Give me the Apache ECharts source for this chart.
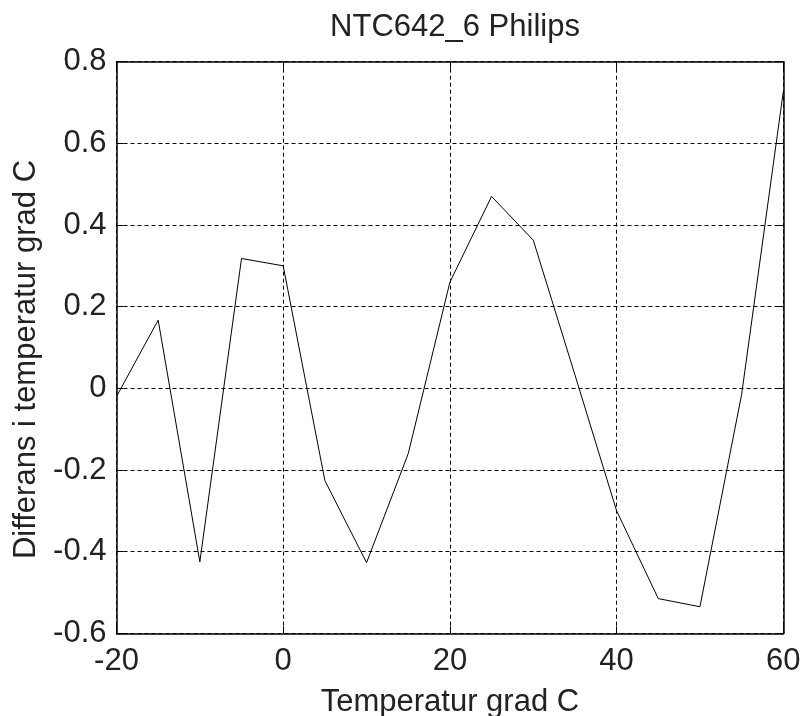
<!DOCTYPE html>
<html>
<head>
<meta charset="utf-8">
<script src="https://cdn.jsdelivr.net/npm/echarts@6/dist/echarts.min.js"></script>
<style>html,body{margin:0;padding:0;background:#fff}#c{width:803px;height:716px}</style>
</head>
<body>
<div id="c"></div>
<script>
var temps = [-20, -15, -10, -5, 0, 5, 10, 15, 20, 25, 30, 35, 40, 45, 50, 55, 60];
var diffs = [-0.02, 0.167, -0.425, 0.318, 0.30, -0.226, -0.427, -0.16, 0.26, 0.47, 0.363, 0.033, -0.30, -0.515, -0.535, -0.015, 0.727];
var xTicks = [-20, 0, 20, 40, 60];
var yTicks = [-0.6, -0.4, -0.2, 0, 0.2, 0.4, 0.6, 0.8];

var FONT = 'Liberation Sans';
var FS = 31;
var TXT = '#222';
var chart = echarts.init(document.getElementById('c'), null, {renderer: 'canvas'});
var grid = {left: 116.5, right: 19.7, top: 61.7, bottom: 82.7, show: false, containLabel: false, outerBoundsMode: 'none'};
var gridLine = {show: true, lineStyle: {color: '#000', type: [4, 3], width: 1}};
chart.setOption({
  backgroundColor: '#fff',
  animation: false,
  title: {
    text: 'NTC642_6 Philips',
    left: 450, textAlign: 'center', top: 7,
    textStyle: {fontFamily: FONT, fontSize: FS, fontWeight: 'normal', color: TXT}
  },
  grid: grid,
  xAxis: [{
    type: 'value', min: -20, max: 60, interval: 20,
    name: 'Temperatur grad C', nameLocation: 'middle', nameGap: 54,
    nameTextStyle: {fontFamily: FONT, fontSize: FS, color: TXT},
    axisLine: {show: true, onZero: false, lineStyle: {color: '#000', width: 1.5}},
    axisTick: {show: true, inside: true, length: 7, lineStyle: {color: '#000'}},
    axisLabel: {fontFamily: FONT, fontSize: FS, color: TXT, margin: 13,
      formatter: function (v) { return xTicks.indexOf(v) >= 0 ? String(v) : ''; }},
    splitLine: gridLine
  }, {
    type: 'value', position: 'top', min: -20, max: 60, interval: 20,
    axisLine: {show: true, onZero: false, lineStyle: {color: '#000', width: 1.5}},
    axisTick: {show: true, inside: true, length: 7, lineStyle: {color: '#000'}},
    axisLabel: {show: false}, splitLine: {show: false}
  }],
  yAxis: [{
    type: 'value', min: -0.6, max: 0.8, interval: 0.2,
    name: 'Differans i temperatur grad C', nameLocation: 'middle', nameGap: 71,
    nameTextStyle: {fontFamily: FONT, fontSize: FS, color: TXT, padding: [0, 24, 0, 0]},
    axisLine: {show: true, onZero: false, lineStyle: {color: '#000', width: 1.5}},
    axisTick: {show: true, inside: true, length: 7, lineStyle: {color: '#000'}},
    axisLabel: {fontFamily: FONT, fontSize: FS, color: TXT, margin: 10,
      formatter: function (v) {
        var r = Math.round(v * 10) / 10;
        for (var i = 0; i < yTicks.length; i++) { if (Math.abs(yTicks[i] - r) < 1e-9) return String(yTicks[i]); }
        return '';
      }},
    splitLine: gridLine
  }, {
    type: 'value', position: 'right', min: -0.6, max: 0.8, interval: 0.2,
    axisLine: {show: true, onZero: false, lineStyle: {color: '#000', width: 1.5}},
    axisTick: {show: true, inside: true, length: 7, lineStyle: {color: '#000'}},
    axisLabel: {show: false}, splitLine: {show: false}
  }],
  series: [{
    type: 'line',
    data: temps.map(function (t, i) { return [t, diffs[i]]; }),
    showSymbol: false, symbol: 'none',
    lineStyle: {color: '#000', width: 1},
    itemStyle: {color: '#000'}
  }]
});
</script>
</body>
</html>
